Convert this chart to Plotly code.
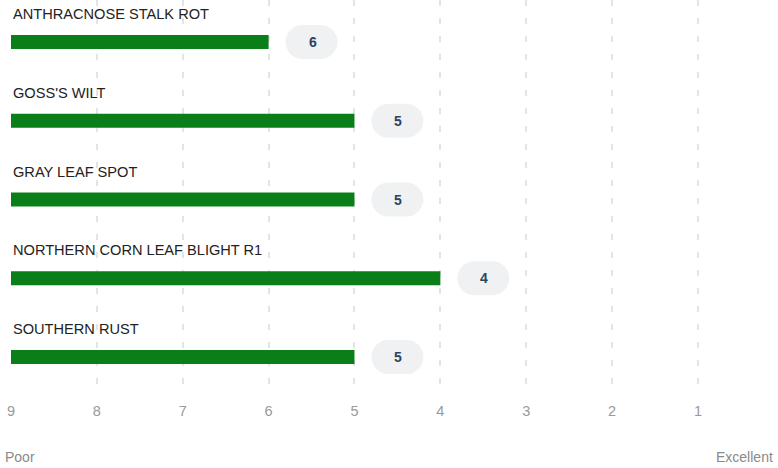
import plotly.graph_objects as go

categories = ["ANTHRACNOSE STALK ROT", "GOSS'S WILT", "GRAY LEAF SPOT",
              "NORTHERN CORN LEAF BLIGHT R1", "SOUTHERN RUST"]
scores = [6, 5, 5, 4, 5]
tick_vals = [9, 8, 7, 6, 5, 4, 3, 2, 1]
tick_text = ["9", "8", "7", "6", "5", "4", "3", "2", "1"]
scale_low, scale_high = "Poor", "Excellent"

BASE = 9
ypos = list(range(len(categories)))

fig = go.Figure()
fig.add_trace(go.Bar(
    y=ypos, x=[s - BASE for s in scores], base=BASE, orientation="h",
    marker=dict(color="#0a7f19", line=dict(width=0)), width=0.18,
    hoverinfo="skip", showlegend=False,
))

# pill shape path (pixel units), stadium 52x34
w, h = 52, 34
r = h / 2
k = 0.5523 * r
hx = w / 2 - r
pill = (f"M {-hx},{-r} L {hx},{-r} "
        f"C {hx + k},{-r} {hx + r},{-k} {hx + r},0 "
        f"C {hx + r},{k} {hx + k},{r} {hx},{r} "
        f"L {-hx},{r} "
        f"C {-hx - k},{r} {-hx - r},{k} {-hx - r},0 "
        f"C {-hx - r},{-k} {-hx - k},{-r} {-hx},{-r} Z")

for i, (cat, s) in enumerate(zip(categories, scores)):
    fig.add_shape(type="path", xref="x", yref="y", xsizemode="pixel", ysizemode="pixel",
                  xanchor=s - 0.5, yanchor=i, path=pill,
                  fillcolor="#f0f1f2", line=dict(width=0), layer="below")
    fig.add_annotation(x=s - 0.5, y=i, text=f"<b>{s}</b>", showarrow=False,
                       font=dict(size=14, color="#2c4563", family="Liberation Sans, Arial"),
                       xanchor="center", yanchor="middle", xshift=1)
    fig.add_annotation(x=BASE, y=i, text=cat, showarrow=False, xanchor="left",
                       yanchor="middle", yshift=28, xshift=0,
                       font=dict(size=14.6, color="#222222", family="Liberation Sans, Arial"))

fig.add_annotation(xref="paper", yref="paper", x=0, y=-0.166, xshift=-8, text=scale_low,
                   showarrow=False, xanchor="left", yanchor="middle",
                   font=dict(size=14, color="#8a8a8a", family="Liberation Sans, Arial"))
fig.add_annotation(xref="paper", yref="paper", x=1, y=-0.166, xshift=-3, text=scale_high,
                   showarrow=False, xanchor="right", yanchor="middle",
                   font=dict(size=14, color="#8a8a8a", family="Liberation Sans, Arial"))

fig.update_layout(
    width=778, height=468,
    margin=dict(l=11, r=0, t=0, b=76, autoexpand=False),
    paper_bgcolor="white", plot_bgcolor="white",
    showlegend=False,
    xaxis=dict(range=[9, 0.068], tickmode="array", tickvals=tick_vals, ticktext=tick_text,
               showgrid=True, gridcolor="#e4e4e4", griddash="6px,12px", gridwidth=1.5,
               zeroline=False, showline=False, ticks="outside", ticklen=0,
               ticklabelstandoff=6, automargin=False,
               tickfont=dict(size=14.5, color="#999999", family="Liberation Sans, Arial"),
               fixedrange=True),
    yaxis=dict(range=[4.444, -0.533], showticklabels=False, showgrid=False,
               zeroline=False, showline=False, fixedrange=True, automargin=False),
)

fig.write_html("out.html", post_script="document.body.style.margin='0';",
               config={"displayModeBar": False})
